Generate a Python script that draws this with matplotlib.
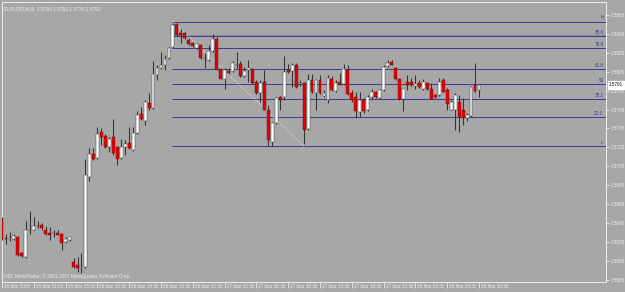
import numpy as np
import matplotlib
matplotlib.use("Agg")
import matplotlib.pyplot as plt
import matplotlib.transforms as mtrans

symbol = "EURUSD,M30"

# EURUSD M30 candles, oldest first
opens = [1.5649, 1.5629, 1.5628, 1.5628, 1.5630, 1.5613, 1.5609, 1.5637, 1.5638, 1.5642,
         1.5643, 1.5638, 1.5634, 1.5634, 1.5634, 1.5633, 1.5625, 1.5627, 1.5604, 1.5600,
         1.5597, 1.5598, 1.5694, 1.5718, 1.5714, 1.5741, 1.5737, 1.5725, 1.5736, 1.5725,
         1.5714, 1.5725, 1.5730, 1.5722, 1.5740, 1.5760, 1.5753, 1.5772, 1.5767, 1.5802,
         1.5809, 1.5812, 1.5819, 1.5831, 1.5855, 1.5846, 1.5846, 1.5839, 1.5835, 1.5830,
         1.5833, 1.5820, 1.5817, 1.5827, 1.5840, 1.5808, 1.5797, 1.5806, 1.5806, 1.5812,
         1.5813, 1.5800, 1.5807, 1.5808, 1.5794, 1.5782, 1.5794, 1.5765, 1.5731, 1.5751,
         1.5778, 1.5778, 1.5807, 1.5806, 1.5812, 1.5792, 1.5793, 1.5744, 1.5796, 1.5782,
         1.5796, 1.5779, 1.5775, 1.5797, 1.5785, 1.5794, 1.5792, 1.5807, 1.5782, 1.5778,
         1.5762, 1.5775, 1.5764, 1.5778, 1.5783, 1.5777, 1.5786, 1.5811, 1.5815, 1.5809,
         1.5797, 1.5776, 1.5794, 1.5794, 1.5790, 1.5793, 1.5787, 1.5793, 1.5787, 1.5780,
         1.5780, 1.5796, 1.5786, 1.5765, 1.5765, 1.5773, 1.5765, 1.5756, 1.5758, 1.5791,
         1.5786]
highs = [1.5651, 1.5633, 1.5635, 1.5633, 1.5631, 1.5614, 1.5647, 1.5658, 1.5651, 1.5647,
         1.5645, 1.5642, 1.5641, 1.5637, 1.5638, 1.5634, 1.5630, 1.5630, 1.5608, 1.5609,
         1.5613, 1.5713, 1.5724, 1.5724, 1.5746, 1.5745, 1.5739, 1.5736, 1.5755, 1.5726,
         1.5734, 1.5733, 1.5746, 1.5746, 1.5763, 1.5768, 1.5775, 1.5782, 1.5816, 1.5812,
         1.5826, 1.5823, 1.5831, 1.5857, 1.5857, 1.5850, 1.5847, 1.5841, 1.5836, 1.5835,
         1.5834, 1.5825, 1.5833, 1.5845, 1.5842, 1.5809, 1.5809, 1.5809, 1.5816, 1.5826,
         1.5816, 1.5810, 1.5817, 1.5809, 1.5796, 1.5796, 1.5807, 1.5770, 1.5752, 1.5778,
         1.5779, 1.5822, 1.5813, 1.5814, 1.5814, 1.5796, 1.5794, 1.5803, 1.5803, 1.5791,
         1.5801, 1.5786, 1.5801, 1.5800, 1.5796, 1.5804, 1.5813, 1.5812, 1.5786, 1.5784,
         1.5784, 1.5777, 1.5780, 1.5787, 1.5785, 1.5787, 1.5812, 1.5817, 1.5817, 1.5810,
         1.5798, 1.5787, 1.5801, 1.5798, 1.5801, 1.5796, 1.5797, 1.5794, 1.5793, 1.5781,
         1.5798, 1.5798, 1.5788, 1.5775, 1.5782, 1.5780, 1.5777, 1.5761, 1.5790, 1.5814,
         1.5792]
lows = [1.5627, 1.5623, 1.5626, 1.5627, 1.5610, 1.5609, 1.5608, 1.5633, 1.5637, 1.5640,
        1.5638, 1.5632, 1.5627, 1.5630, 1.5632, 1.5616, 1.5624, 1.5626, 1.5597, 1.5593,
        1.5592, 1.5597, 1.5689, 1.5712, 1.5713, 1.5727, 1.5724, 1.5720, 1.5717, 1.5706,
        1.5713, 1.5717, 1.5723, 1.5721, 1.5739, 1.5754, 1.5749, 1.5765, 1.5766, 1.5796,
        1.5808, 1.5807, 1.5818, 1.5830, 1.5843, 1.5835, 1.5840, 1.5833, 1.5831, 1.5829,
        1.5818, 1.5809, 1.5816, 1.5826, 1.5807, 1.5797, 1.5787, 1.5803, 1.5805, 1.5809,
        1.5799, 1.5799, 1.5794, 1.5792, 1.5781, 1.5773, 1.5764, 1.5726, 1.5726, 1.5750,
        1.5764, 1.5775, 1.5804, 1.5789, 1.5788, 1.5790, 1.5728, 1.5743, 1.5782, 1.5765,
        1.5781, 1.5778, 1.5772, 1.5785, 1.5783, 1.5791, 1.5791, 1.5780, 1.5773, 1.5756,
        1.5757, 1.5761, 1.5763, 1.5776, 1.5777, 1.5776, 1.5785, 1.5810, 1.5812, 1.5796,
        1.5775, 1.5763, 1.5786, 1.5790, 1.5787, 1.5788, 1.5786, 1.5786, 1.5776, 1.5777,
        1.5779, 1.5783, 1.5764, 1.5764, 1.5743, 1.5741, 1.5749, 1.5753, 1.5757, 1.5783,
        1.5778]
closes = [1.5628, 1.5628, 1.5629, 1.5631, 1.5611, 1.5610, 1.5637, 1.5638, 1.5642, 1.5642,
          1.5640, 1.5633, 1.5632, 1.5634, 1.5632, 1.5624, 1.5628, 1.5630, 1.5598, 1.5597,
          1.5598, 1.5696, 1.5718, 1.5713, 1.5739, 1.5736, 1.5725, 1.5734, 1.5719, 1.5713,
          1.5725, 1.5728, 1.5724, 1.5740, 1.5759, 1.5755, 1.5773, 1.5767, 1.5803, 1.5809,
          1.5812, 1.5818, 1.5830, 1.5854, 1.5844, 1.5844, 1.5841, 1.5834, 1.5832, 1.5834,
          1.5819, 1.5819, 1.5827, 1.5840, 1.5808, 1.5797, 1.5807, 1.5804, 1.5814, 1.5812,
          1.5800, 1.5806, 1.5809, 1.5793, 1.5782, 1.5793, 1.5765, 1.5733, 1.5751, 1.5777,
          1.5775, 1.5805, 1.5805, 1.5812, 1.5789, 1.5793, 1.5743, 1.5796, 1.5783, 1.5796,
          1.5782, 1.5782, 1.5798, 1.5786, 1.5793, 1.5792, 1.5808, 1.5781, 1.5775, 1.5763,
          1.5775, 1.5763, 1.5778, 1.5783, 1.5778, 1.5786, 1.5810, 1.5814, 1.5812, 1.5797,
          1.5776, 1.5787, 1.5791, 1.5791, 1.5792, 1.5789, 1.5794, 1.5787, 1.5776, 1.5778,
          1.5794, 1.5784, 1.5771, 1.5773, 1.5780, 1.5757, 1.5756, 1.5759, 1.5789, 1.5785,
          1.5791]

time_ticks = [0, 8, 16, 24, 32, 40, 48, 56, 64, 72, 80, 88, 96, 104, 112, 120]
time_labels = ["26 Mar 2008", "26 Mar 01:00", "26 Mar 05:00", "26 Mar 10:30",
               "26 Mar 14:30", "26 Mar 18:30", "26 Mar 22:30", "27 Mar 02:30",
               "27 Mar 06:30", "27 Mar 10:30", "27 Mar 14:30", "27 Mar 18:30",
               "27 Mar 22:30", "28 Mar 02:30", "28 Mar 06:30", "28 Mar 10:30"]

price_ticks = [1.5585, 1.5605, 1.5625, 1.5645, 1.5665, 1.5685, 1.5705, 1.5725,
               1.5745, 1.5765, 1.5785, 1.5805, 1.5825, 1.5845, 1.5865]

# fibonacci retracement: from bar 43 high down to bar 76 low
fib_start, fib_end = 43, 76
fib_high, fib_low = 1.5858, 1.5726
fib_levels = [0.0, 23.6, 38.2, 50.0, 61.8, 78.6, 88.6, 100.0]
fib_names = ["L", "23.6", "38.2", "50", "61.8", "78.6", "88.6", "H"]

bg = "#a7a7a7"
fg = "#eeeeee"
fib_col = "#3d3d98"
fnt = "Liberation Sans"

W, H = 625, 292
fig = plt.figure(figsize=(W / 100, H / 100), dpi=100, facecolor=bg)
ax = fig.add_axes([2 / W, 10 / H, 604 / W, 280 / H], facecolor=bg)

o = np.array(opens); h = np.array(highs); l = np.array(lows); c = np.array(closes)
x = np.arange(len(o))
up = c >= o

ax.vlines(x, l, h, color="#333333", linewidth=0.75, zorder=3)
body = np.maximum(np.abs(c - o), 0.00002)
ax.bar(x[up], body[up], bottom=np.minimum(o, c)[up], width=0.72,
       color="white", edgecolor="#444444", linewidth=0.35, zorder=4)
ax.bar(x[~up], body[~up], bottom=np.minimum(o, c)[~up], width=0.72,
       color="#e80000", edgecolor="#5a1010", linewidth=0.3, zorder=4)

# fib lines
xmax = 151.95
for lev, name in zip(fib_levels, fib_names):
    p = fib_low + lev / 100 * (fib_high - fib_low)
    if name == "88.6":
        ax.plot([fib_start - 0.3, xmax], [p, p], color="#8c8c9c", linewidth=1.5,
                solid_capstyle="butt", zorder=1)
    ax.plot([fib_start - 0.3, xmax], [p, p], color=fib_col, linewidth=0.72,
            solid_capstyle="butt", snap=True, zorder=2)
    ax.text(151.3, p + 0.00012, name, color=fib_col, fontsize=3.3, family=fnt,
            ha="right", va="bottom", zorder=5)
ax.plot([fib_start, fib_end], [fib_high, fib_low], color="#e4e4e4",
        linestyle=(0, (1, 1.5)), linewidth=0.7, zorder=2)

ax.set_xlim(0.075, xmax)
ax.set_ylim(1.558246, 1.587876)

ax.yaxis.tick_right()
ax.set_yticks(price_ticks)
ax.set_yticklabels([f"{p:.4f}" for p in price_ticks])
ax.set_xticks(time_ticks)
ax.set_xticklabels(time_labels, ha="left")
ax.tick_params(axis="y", length=2.5, width=0.6, color=fg, labelcolor=fg,
               labelsize=3.3, pad=1)
ax.tick_params(axis="x", length=4, width=0.6, color=fg, labelcolor=fg,
               labelsize=3.3, pad=-2.2)
shift = mtrans.ScaledTranslation(2 / 100, 0, fig.dpi_scale_trans)
for lab in ax.get_xticklabels():
    lab.set_family(fnt)
    lab.set_transform(lab.get_transform() + shift)
for lab in ax.get_yticklabels():
    lab.set_family(fnt)

for s in ax.spines.values():
    s.set_color(fg)
    s.set_linewidth(0.7)

# current price tag
ax.text(1.0 + 3 / 604, c[-1], f"{c[-1]:.4f}", transform=ax.get_yaxis_transform(),
        fontsize=3.3, family=fnt, color="black", va="center", ha="left",
        bbox=dict(boxstyle="square,pad=0.25", fc="white", ec="white"),
        zorder=6, clip_on=False)

ax.text(0.003, 0.985, f"{symbol}  {o[-1]:.4f} {h[-1]:.4f} {l[-1]:.4f} {c[-1]:.4f}",
        transform=ax.transAxes, fontsize=3.4, family=fnt, color=fg,
        ha="left", va="top")
ax.text(0.003, 0.01, "ODL MetaTrader, \u00a9 2001-2007 MetaQuotes Software Corp.",
        transform=ax.transAxes, fontsize=3.4, family=fnt, color=fg,
        ha="left", va="bottom")

fig.savefig("out.png", dpi=100, facecolor=bg)
